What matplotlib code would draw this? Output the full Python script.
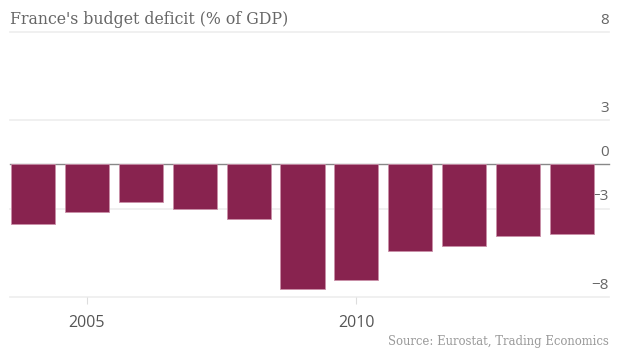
import matplotlib
matplotlib.use("Agg")
from matplotlib import pyplot as plt
from matplotlib.transforms import blended_transform_factory, offset_copy

years = [2004, 2005, 2006, 2007, 2008, 2009, 2010, 2011, 2012, 2013, 2014]
deficit = [-3.6, -2.9, -2.3, -2.7, -3.3, -7.5, -7.0, -5.2, -4.9, -4.3, -4.2]
grid_values = [-8, -8 / 3, 0, 8 / 3, 8]
grid_labels = ['\u22128', '\u22123', '0', '3', '8']
year_ticks = [2005, 2010]

BAR = '#88234f'
GRID = '#ededed'
TEXT = '#666666'

fig = plt.figure(figsize=(6.2, 3.49), dpi=100)
ax = fig.add_axes([10 / 620, 52 / 349, 599 / 620, 265.3 / 349])

for v in grid_values:
    ax.axhline(v, color='#888888' if v == 0 else GRID, lw=1.2 if v else 1,
               zorder=1, clip_on=False)

ax.bar(years, deficit, width=0.82, color=BAR, edgecolor='#c98fa8',
       linewidth=0.6, zorder=3)

trans = blended_transform_factory(ax.transAxes, ax.transData)
for v, lab in zip(grid_values, grid_labels):
    ax.text(1.0, v, lab, transform=offset_copy(trans, fig=fig, y=3, units='points'),
            ha='right', va='bottom', fontsize=11, color=TEXT, zorder=2,
            family='Open Sans')

ax.set_xlim(2003.573, 2014.687)
ax.set_ylim(-8, 8)
ax.set_xticks(year_ticks)
ax.set_xticklabels([str(y) for y in year_ticks], fontsize=11.5, color='#555555',
                   family='Open Sans')
ax.tick_params(axis='x', length=5, width=0.8, color='#dddddd', pad=8)
ax.set_yticks([])
for s in ax.spines.values():
    s.set_visible(False)

fig.text(10 / 620, 1 - 20 / 349, "France's budget deficit (% of GDP)",
         ha='left', va='center', fontsize=11.3, color=TEXT, family='DejaVu Serif')
fig.text(609 / 620, 1 - 341 / 349, 'Source: Eurostat, Trading Economics',
         ha='right', va='center', fontsize=8.4, color='#999999', family='DejaVu Serif')

fig.savefig('out.png', dpi=100)
